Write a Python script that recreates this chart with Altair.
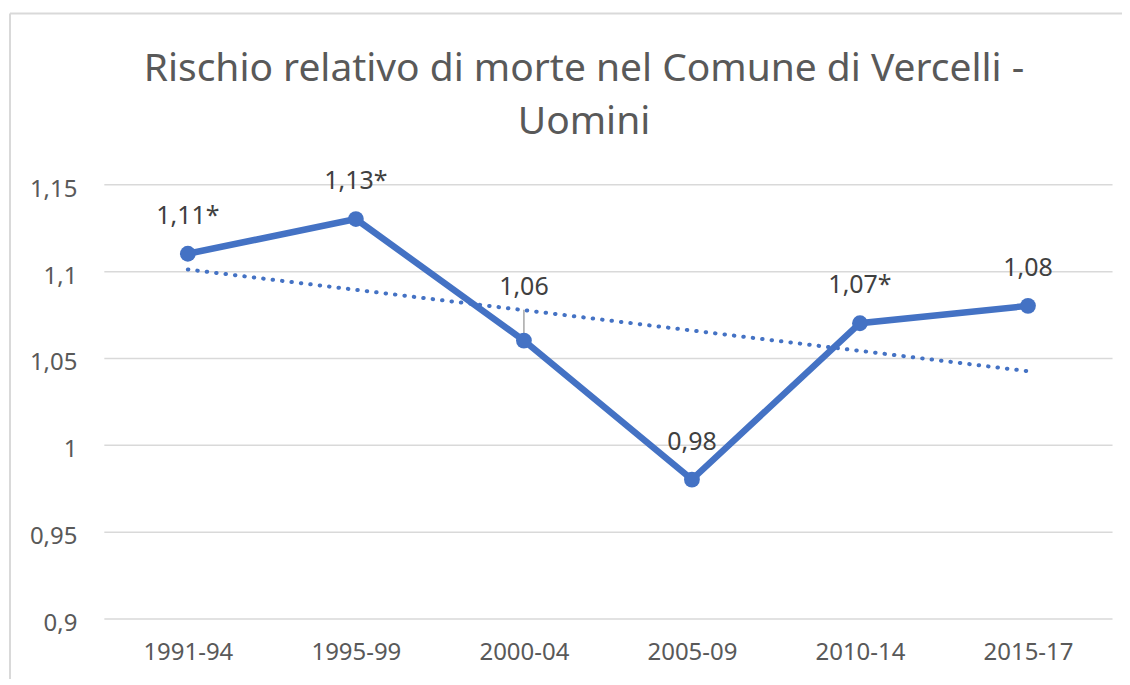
import altair as alt
import pandas as pd

title_text = "Rischio relativo di morte nel Comune di Vercelli -\nUomini"
periods = ["1991-94", "1995-99", "2000-04", "2005-09", "2010-14", "2015-17"]
values = [1.11, 1.13, 1.06, 0.98, 1.07, 1.08]
labels = ["1,11*", "1,13*", "1,06", "0,98", "1,07*", "1,08"]
y_ticks = [0.9, 0.95, 1.0, 1.05, 1.1, 1.15]

df = pd.DataFrame({"idx": list(range(len(periods))), "period": periods,
                   "val": values, "lab": labels})

FONT = "Noto Sans"
BLUE = "#4472C4"

label_expr = "[" + ",".join(f"'{p}'" for p in periods) + "][round(datum.value)]"

x = alt.X("idx:Q", scale=alt.Scale(domain=[-0.5, len(periods) - 0.5], nice=False, zero=False),
          axis=alt.Axis(values=list(range(len(periods))), labelExpr=label_expr, grid=False,
                        ticks=False, domain=False, labelFontSize=24, labelColor="#595959",
                        labelFont=FONT, labelPadding=22, title=None))
y = alt.Y("val:Q", scale=alt.Scale(domain=[0.9, 1.15], nice=False, zero=False),
          axis=alt.Axis(values=y_ticks, labelExpr="replace(format(datum.value, '.2~f'), '.', ',')",
                        grid=True, gridColor="#d9d9d9", gridWidth=1.5, ticks=False, domain=False,
                        labelFontSize=24, labelColor="#595959", labelFont=FONT,
                        labelPadding=27, labelOffset=5, title=None))

base = alt.Chart(df)

trend = base.transform_regression("idx", "val", extent=[0, 5]).mark_line(
    color=BLUE, strokeWidth=4, strokeDash=[0.5, 9], strokeCap="round"
).encode(x=x, y=y)

line = base.mark_line(color=BLUE, strokeWidth=6.5).encode(x=x, y=y)
pts = base.mark_circle(color=BLUE, size=250, opacity=1).encode(x=x, y=y)

txt = base.transform_filter("datum.period != '2000-04'").mark_text(
    font=FONT, fontSize=25, color="#404040", dy=-30, baseline="alphabetic"
).encode(x=x, y=y, text="lab:N")

txt2 = base.transform_filter("datum.period == '2000-04'").mark_text(
    font=FONT, fontSize=25, color="#404040", dy=-46, baseline="alphabetic"
).encode(x=x, y=y, text="lab:N")

leader = base.transform_filter("datum.period == '2000-04'").mark_rule(
    color="#a6a6a6", strokeWidth=1.5, y2Offset=-31
).encode(x=x, y=y, y2="val:Q")

frame_left = alt.Chart(df.head(1)).mark_rule(color="#d9d9d9", strokeWidth=2).encode(
    x=alt.value(-94), y=alt.value(-171), y2=alt.value(500))
frame_top = alt.Chart(df.head(1)).mark_rule(color="#d9d9d9", strokeWidth=2).encode(
    x=alt.value(-94), x2=alt.value(1030), y=alt.value(-171))

title = alt.Chart(df.head(1)).mark_text(
    text=title_text, lineBreak="\n", font=FONT, fontSize=39, color="#595959",
    baseline="alphabetic", align="center", lineHeight=53
).encode(x=alt.value(481), y=alt.value(-103))

chart = alt.layer(frame_left, frame_top, title, trend, line, leader, pts, txt, txt2).properties(
    width=1010, height=435,
    autosize=alt.AutoSizeParams(type="none"),
    padding={"left": 96, "top": 176, "right": 10, "bottom": 60},
).configure_view(strokeWidth=0)

chart.save("out.html", embed_options={"renderer": "svg", "actions": False})
